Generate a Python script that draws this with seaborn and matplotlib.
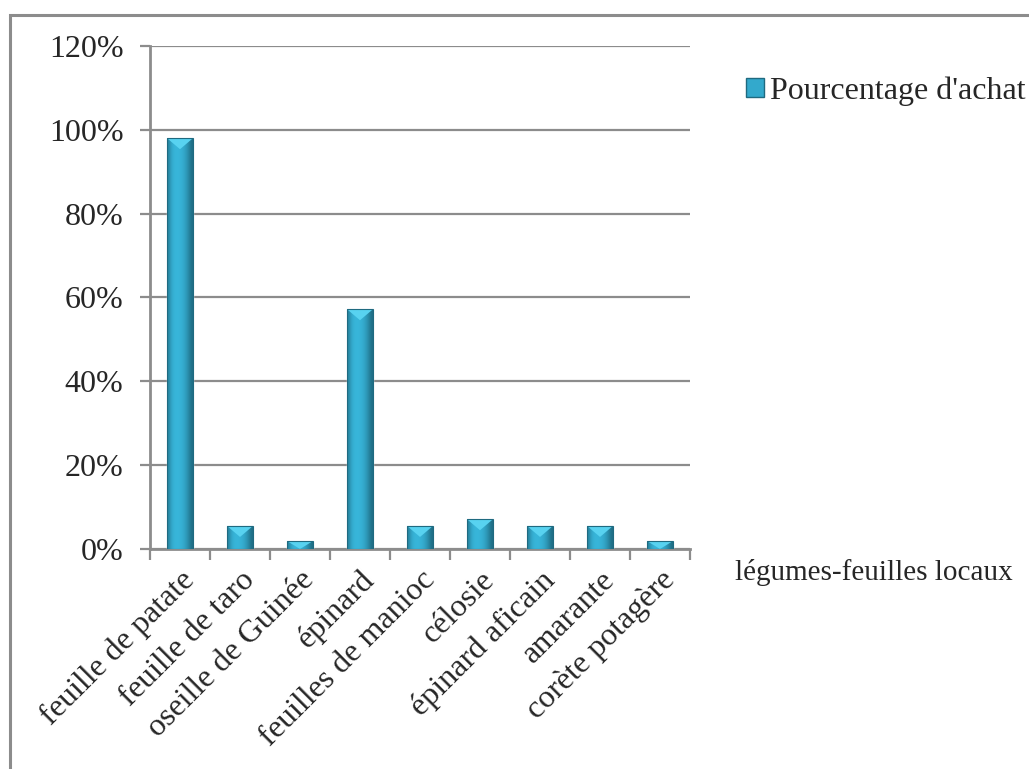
import matplotlib
matplotlib.use("Agg")
import matplotlib.pyplot as plt
import matplotlib.patches as mpatches
from matplotlib.ticker import PercentFormatter, MultipleLocator
import numpy as np
import pandas as pd
import seaborn as sns

# Data
legumes = ['feuille de patate', 'feuille de taro', 'oseille de Guinée', 'épinard',
           'feuilles de manioc', 'célosie', 'épinard aficain', 'amarante', 'corète potagère']
pourcentage = [0.98, 0.055, 0.019, 0.572, 0.055, 0.071, 0.055, 0.055, 0.019]
serie = "Pourcentage d'achat"
x_titre = 'légumes-feuilles locaux'

df = pd.DataFrame({'legume': legumes, 'pct': pourcentage})

sns.set_style('white')
plt.rcParams['font.family'] = ['Liberation Serif', 'DejaVu Serif']

grey = '#8c8c8c'
base = '#33a9cc'

fig = plt.figure(figsize=(10.29, 7.69), dpi=100)
ax = fig.add_axes([150 / 1029, 1 - 549 / 769, 540 / 1029, (549 - 46) / 769])

sns.barplot(data=df, x='legume', y='pct', color=base, width=0.43, ax=ax,
            saturation=1, zorder=3)

ax.set_xlim(-0.5, len(legumes) - 0.5)
ax.set_ylim(0, 1.2)
ax.yaxis.set_major_locator(MultipleLocator(0.2))
ax.yaxis.set_major_formatter(PercentFormatter(1.0, decimals=0))

# grid and axes
ax.grid(axis='y', color=grey, linewidth=1.6, zorder=0)
ax.grid(axis='x', visible=False)
for s in ['top', 'right']:
    ax.spines[s].set_visible(False)
for s in ['left', 'bottom']:
    ax.spines[s].set_color(grey)
    ax.spines[s].set_linewidth(2)

ax.tick_params(axis='y', length=7, width=1.6, color=grey, labelsize=23, pad=12, left=True)
ax.set_xticks(np.arange(-0.5, len(legumes)), minor=True)
ax.tick_params(axis='x', which='minor', length=8, width=1.6, color=grey, bottom=True)
ax.tick_params(axis='x', which='major', length=0, labelsize=23, pad=12)
ax.set_xticks(range(len(legumes)))
ax.set_xticklabels(legumes, rotation=45, ha='right', rotation_mode='anchor')
ax.set_xlabel('')
ax.set_ylabel('')

# bevel look on each bar: horizontal gradient plus light top triangle
fig.canvas.draw()
px_per_y = ax.transData.transform((0, 1))[1] - ax.transData.transform((0, 0))[1]
grad = np.array([[0.25, 0.5, 0.6, 0.62, 0.6, 0.55, 0.45, 0.3, 0.1]])
cmap = matplotlib.colors.LinearSegmentedColormap.from_list('b', ['#1a6075', '#38b6db'])
for bar in list(ax.patches):
    x0, w, h = bar.get_x(), bar.get_width(), bar.get_height()
    im = ax.imshow(grad, cmap=cmap, vmin=0, vmax=0.62, aspect='auto',
                   interpolation='bicubic', extent=(x0, x0 + w, 0, h), zorder=3.5)
    im.set_clip_path(bar)
    bev = min(11 / px_per_y, h)
    tri = mpatches.Polygon([(x0, h), (x0 + w, h), (x0 + w * 0.5, h - bev)],
                           closed=True, facecolor='#58d2f0', edgecolor='none', zorder=4)
    ax.add_patch(tri)
    edge = mpatches.Rectangle((x0, 0), w, h, fill=False, edgecolor='#1f6a80',
                              linewidth=0.8, zorder=4.5)
    ax.add_patch(edge)
ax.set_xlim(-0.5, len(legumes) - 0.5)
ax.set_ylim(0, 1.2)

# legend and axis title on the right
handle = mpatches.Patch(facecolor=base, edgecolor='#1f6a80')
fig.legend([handle], [serie], loc='center left', bbox_to_anchor=(746 / 1029, 1 - 91 / 769),
           frameon=False, fontsize=23, handlelength=0.55, handleheight=0.55,
           handletextpad=0.2, borderaxespad=0, borderpad=0)
fig.text(735 / 1029, 1 - 573 / 769, x_titre, fontsize=21, ha='left', va='center')

# outer chart border
fig.patches.append(mpatches.Rectangle((10 / 1029, -0.05), 1.1, 1 - 15 / 769 + 0.05,
                                      transform=fig.transFigure, fill=False,
                                      edgecolor=grey, linewidth=2.2))

fig.savefig('out.png', dpi=100)
